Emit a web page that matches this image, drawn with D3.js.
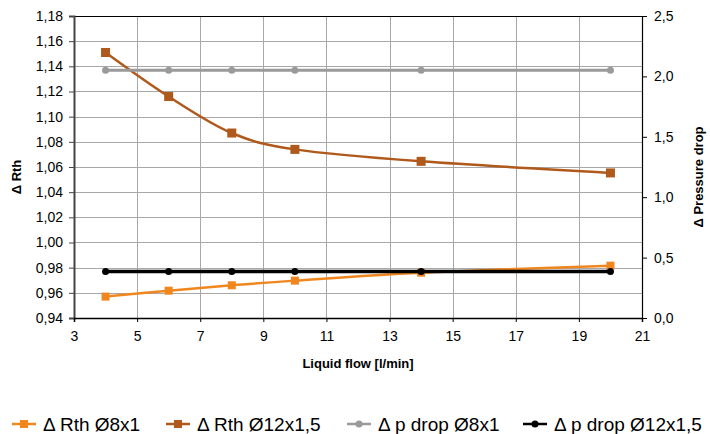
<!DOCTYPE html>
<html><head><meta charset="utf-8">
<script src="https://cdn.jsdelivr.net/npm/d3@7"></script>
<style>body{margin:0;background:#fff}svg{display:block}text{font-family:"Liberation Sans",Arial,Helvetica,sans-serif;fill:#000}</style>
</head><body><svg id="c" width="710" height="434"></svg>
<script>
const flow = [4, 6, 8, 10, 14, 20];
const rth8 = [0.957, 0.9617, 0.966, 0.9697, 0.976, 0.9816];
const rth12 = [1.151, 1.116, 1.087, 1.074, 1.0645, 1.0553];
const pdrop8 = [2.05, 2.05, 2.05, 2.05, 2.05, 2.05];
const pdrop12 = [0.385, 0.385, 0.385, 0.385, 0.385, 0.385];
const xTicks = [3, 5, 7, 9, 11, 13, 15, 17, 19, 21];
const yLeftTicks = [0.94, 0.96, 0.98, 1.00, 1.02, 1.04, 1.06, 1.08, 1.10, 1.12, 1.14, 1.16, 1.18];
const yRightTicks = [0, 0.5, 1.0, 1.5, 2.0, 2.5];
const seriesNames = ["Δ Rth Ø8x1", "Δ Rth Ø12x1,5", "Δ p drop Ø8x1", "Δ p drop Ø12x1,5"];
const seriesColors = ["#f0861e", "#b0591c", "#9a9a9a", "#000000"];

const svg = d3.select("#c");
const L = 74, R = 642, T = 16, B = 318;
const x = d3.scaleLinear().domain([3, 21]).range([L, R]);
const yl = d3.scaleLinear().domain([0.94, 1.18]).range([B, T]);
const yr = d3.scaleLinear().domain([0, 2.5]).range([B, T]);
const comma = (d, p) => d3.format("." + p + "f")(d).replace(".", ",");

// grid
const g = svg.append("g");
g.selectAll(".vg").data(xTicks).join("line")
  .attr("x1", d => Math.round(x(d)) + 0.5).attr("x2", d => Math.round(x(d)) + 0.5)
  .attr("y1", T).attr("y2", B).attr("stroke", "#a8a8a8").attr("stroke-width", 1);
g.selectAll(".hg").data(yLeftTicks).join("line")
  .attr("x1", L).attr("x2", R)
  .attr("y1", d => Math.round(yl(d)) + 0.5).attr("y2", d => Math.round(yl(d)) + 0.5)
  .attr("stroke", "#a8a8a8").attr("stroke-width", 1);

// frame
svg.append("line").attr("x1", L).attr("x2", R).attr("y1", T + 0.5).attr("y2", T + 0.5).attr("stroke", "#000");

// axes
const axL = d3.axisLeft(yl).tickValues(yLeftTicks).tickFormat(d => comma(d, 2)).tickSize(5).tickPadding(6);
const axR = d3.axisRight(yr).tickValues(yRightTicks).tickFormat(d => comma(d, 1)).tickSize(5).tickPadding(7);
const axB = d3.axisBottom(x).tickValues(xTicks).tickFormat(d3.format("d")).tickSize(4).tickPadding(9);
function style(sel, col, w) {
  sel.select(".domain").attr("stroke", col).attr("stroke-width", w);
  sel.selectAll(".tick line").attr("stroke", col);
  sel.selectAll("text").attr("font-size", 14).attr("font-family", "Liberation Sans, Arial, sans-serif").attr("fill", "#000");
}
svg.append("g").attr("transform", `translate(${x.range()[0]},0)`).call(axL).call(s => style(s, "#444", 2));
svg.append("g").attr("transform", `translate(${R},0)`).call(axR).call(s => style(s, "#000", 1.2));
svg.append("g").attr("transform", `translate(0,${B})`).call(axB).call(s => style(s, "#000", 1.5));

// series
const curve = d3.curveCardinal.tension(0);
const series = [
  {vals: rth8, y: yl, color: seriesColors[0], w: 2.5, marker: "sq", ms: 8},
  {vals: rth12, y: yl, color: seriesColors[1], w: 2.5, marker: "sq", ms: 9},
  {vals: pdrop8, y: yr, color: seriesColors[2], w: 3, marker: "ci", ms: 3.5},
  {vals: pdrop12, y: yr, color: seriesColors[3], w: 3.5, marker: "ci", ms: 3.5}
];
series.forEach(s => {
  const pts = flow.map((f, i) => [f, s.vals[i]]);
  svg.append("path").datum(pts)
    .attr("d", d3.line().x(d => x(d[0])).y(d => s.y(d[1])).curve(curve))
    .attr("fill", "none").attr("stroke", s.color).attr("stroke-width", s.w);
  if (s.marker === "sq") {
    svg.selectAll(null).data(pts).join("rect")
      .attr("x", d => x(d[0]) - s.ms / 2).attr("y", d => s.y(d[1]) - s.ms / 2)
      .attr("width", s.ms).attr("height", s.ms).attr("fill", s.color);
  } else {
    svg.selectAll(null).data(pts).join("circle")
      .attr("cx", d => x(d[0])).attr("cy", d => s.y(d[1])).attr("r", s.ms).attr("fill", s.color);
  }
});

// axis titles
svg.append("text").attr("transform", `translate(21,${(T + B) / 2 + 10}) rotate(-90)`)
  .attr("text-anchor", "middle").attr("font-size", 13).attr("font-weight", "bold").text("Δ Rth");
svg.append("text").attr("transform", `translate(703,${(T + B) / 2 + 10}) rotate(-90)`)
  .attr("text-anchor", "middle").attr("font-size", 13).attr("font-weight", "bold").text("Δ Pressure drop");
svg.append("text").attr("x", (L + R) / 2).attr("y", 368)
  .attr("text-anchor", "middle").attr("font-size", 13).attr("font-weight", "bold").text("Liquid flow [l/min]");

// legend
const legStarts = [12, 166, 347, 523];
const ly = 424;
series.forEach((s, i) => {
  const lx = legStarts[i];
  const lg = svg.append("g");
  lg.append("line").attr("x1", lx).attr("x2", lx + 24).attr("y1", ly).attr("y2", ly)
    .attr("stroke", s.color).attr("stroke-width", 2.5);
  if (s.marker === "sq") lg.append("rect").attr("x", lx + 12 - 4).attr("y", ly - 4).attr("width", 8).attr("height", 8).attr("fill", s.color);
  else lg.append("circle").attr("cx", lx + 12).attr("cy", ly).attr("r", 3.5).attr("fill", s.color);
  lg.append("text").attr("x", lx + 31).attr("y", ly + 6.5).attr("font-size", 19).text(seriesNames[i]);
});
</script></body></html>
